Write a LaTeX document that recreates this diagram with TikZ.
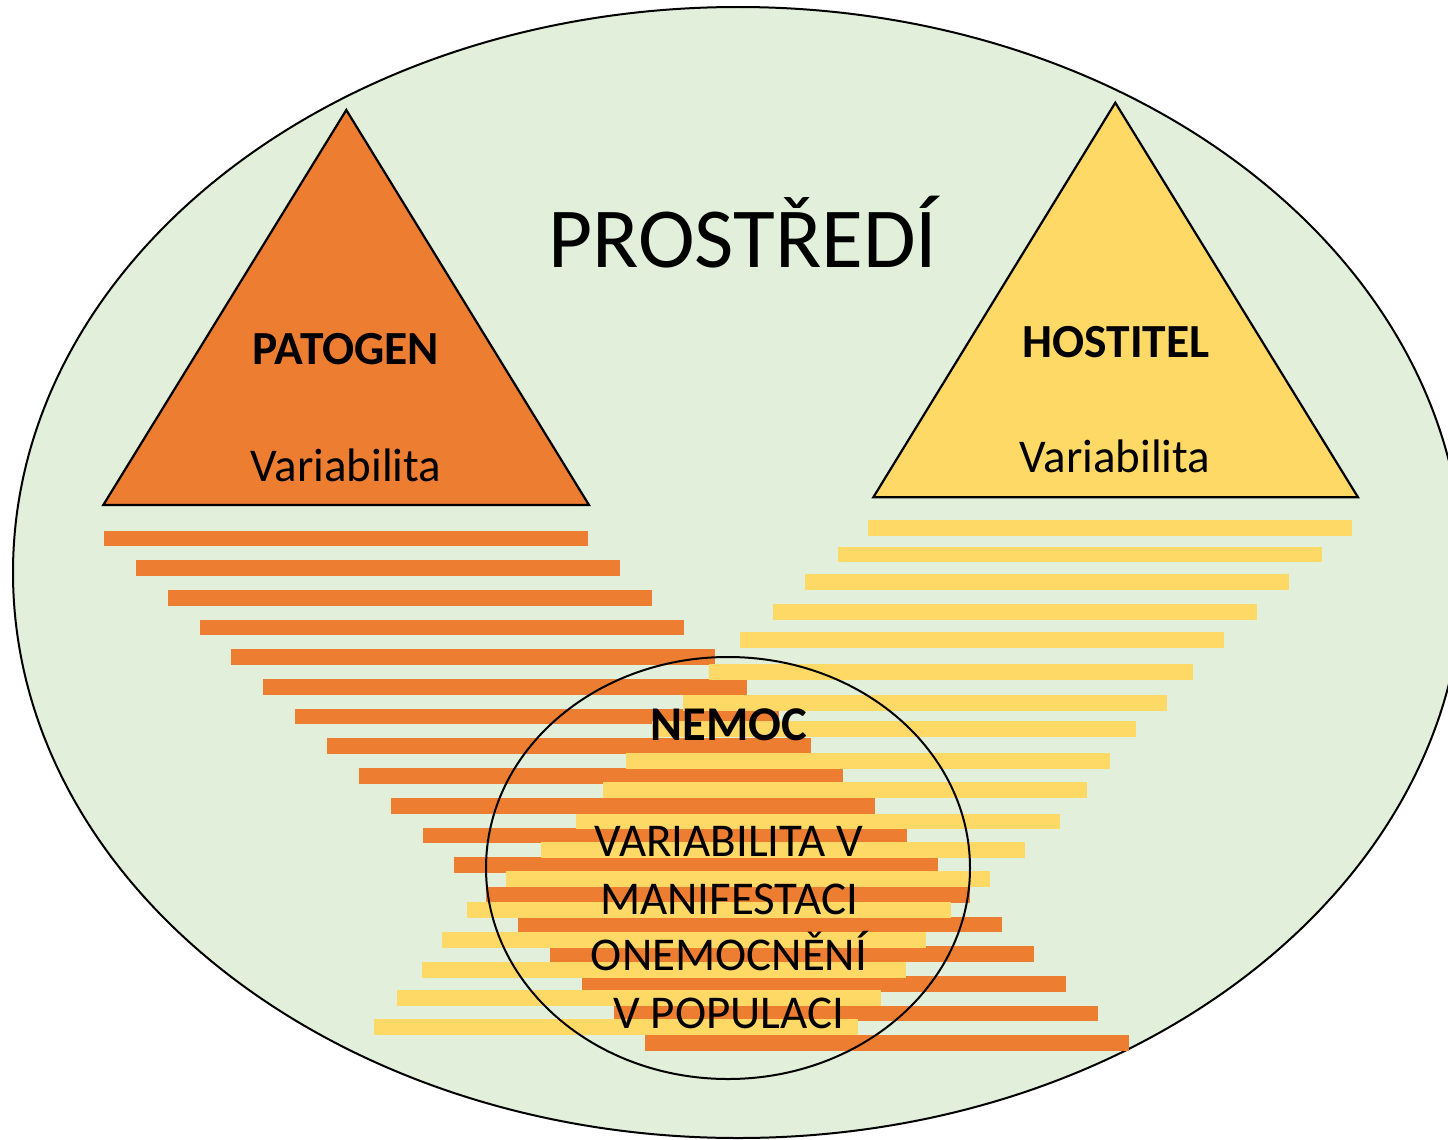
\documentclass[tikz,border=0pt]{standalone}
\usepackage{fontspec}
\setmainfont{Carlito}
\definecolor{envgreen}{HTML}{E2EFDA}
\definecolor{patorange}{HTML}{ED7D31}
\definecolor{hostyellow}{HTML}{FFD966}
\begin{document}
\begin{tikzpicture}[x=1pt,y=-1pt,
  obar/.style={fill=patorange},
  ybar/.style={fill=hostyellow},
  tri/.style={draw=black, line width=2.2pt, line join=miter},
  title/.style={anchor=base, inner sep=0pt, font=\fontsize{85.5}{100}\selectfont},
  head/.style={anchor=base, inner sep=0pt, font=\fontsize{47.5}{56}\selectfont\bfseries},
  sub/.style={anchor=base, inner sep=0pt, font=\fontsize{47}{56}\selectfont},
  nemochead/.style={anchor=base, inner sep=0pt, font=\fontsize{48.5}{58}\selectfont\bfseries},
  nemocline/.style={anchor=base, inner sep=0pt, font=\fontsize{47}{57}\selectfont}]
\useasboundingbox (0,0) rectangle (1448,1140);
\fill[white] (0,0) rectangle (1448,1140);
% environment
\draw[fill=envgreen, line width=2pt] (738,572.5) ellipse [x radius=725pt, y radius=565.5pt];
% triangles
\draw[tri, fill=patorange] (346.3,110) -- (589,505) -- (103.3,505) -- cycle;
\draw[tri, fill=hostyellow] (1115.3,102.7) -- (1358,497.3) -- (873.3,497.3) -- cycle;
% orange bars
\foreach \k in {0,...,17}
  \fill[obar] ({104+31.85*\k},{530.5+29.7*\k}) rectangle +(484,15.7);
% yellow bars
\foreach \xs/\yt in {868/520, 838/546.7, 804.5/574, 773/604, 740/632, 709/664,
  683/695, 652/721, 626/753, 603/782, 576/813.7, 541/842, 506/871, 467/902,
  442/932, 422/962, 397/990, 374/1019}
  \fill[ybar] (\xs,\yt) rectangle +(484,15.7);
% disease circle
\draw[line width=2pt] (728,868) ellipse [x radius=242pt, y radius=211pt];
% texts
\node[title] (env) at (743,267.7) {PROSTŘEDÍ};
\node[head] (pat) at (346,364.3) {PATOGEN};
\node[sub] (patv) at (346,481) {Variabilita};
\node[head] (host) at (1116,357.7) {HOSTITEL};
\node[sub] (hostv) at (1115,472.7) {Variabilita};
\node[nemochead] (nemoc) at (729,740.7) {NEMOC};
\node[nemocline] (l1) at (729,856.7) {VARIABILITA V};
\node[nemocline] (l2) at (729,914.3) {MANIFESTACI};
\node[nemocline] (l3) at (729,970.5) {ONEMOCNĚNÍ};
\node[nemocline] (l4) at (729,1028) {V POPULACI};
\end{tikzpicture}
\end{document}
